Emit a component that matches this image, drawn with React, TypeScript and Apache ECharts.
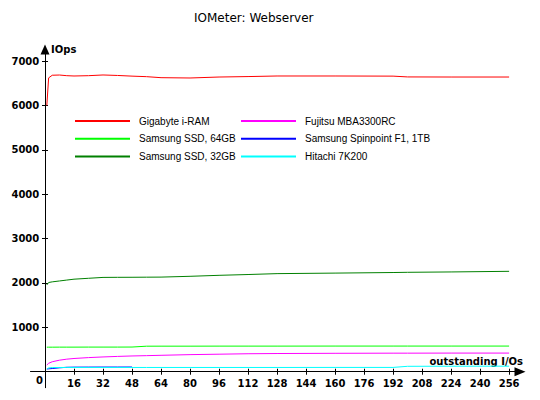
import React, { useEffect, useRef } from 'react';
import * as echarts from 'echarts';

// outstanding I/Os (x) at which the values were read
const ioDepths = [1, 2, 4, 8, 12, 16, 24, 32, 40, 48, 56, 64, 80, 96, 112, 128, 160, 192, 200, 224, 256];

const gigabyteIRam = [6000, 6620, 6680, 6685, 6670, 6663, 6670, 6686, 6675, 6660, 6648, 6625, 6618, 6640, 6650, 6663, 6663, 6660, 6642, 6640, 6640];
const samsungSsd64 = [553, 553, 553, 554, 554, 554, 555, 555, 555, 556, 575, 576, 576, 577, 577, 577, 578, 578, 578, 578, 578];
const samsungSsd32 = [1955, 2010, 2025, 2045, 2065, 2085, 2105, 2125, 2127, 2128, 2130, 2132, 2150, 2172, 2190, 2210, 2222, 2235, 2240, 2248, 2262];
const fujitsuMba = [150, 190, 225, 260, 283, 298, 318, 333, 345, 355, 362, 370, 385, 395, 405, 410, 415, 418, 418, 420, 420];
const spinpointF1 = [60, 65, 72, 88, 100, 103, 104, 105, 105, 106, null, null, null, null, null, null, null, null, null, null, null];
const hitachi7k200 = [63, 85, 95, 95, 96, 96, 96, 96, 96, 96, 96, 96, 96, 96, 96, 96, 97, 97, 122, 124, 125];

const seriesNames = ['Gigabyte i-RAM', 'Samsung SSD, 64GB', 'Samsung SSD, 32GB', 'Fujitsu MBA3300RC', 'Samsung Spinpoint F1, 1TB', 'Hitachi 7K200'];
const seriesColors = ['#ff0000', '#00ff00', '#008000', '#ff00ff', '#0000ff', '#00ffff'];
const seriesValues = [gigabyteIRam, samsungSsd64, samsungSsd32, fujitsuMba, spinpointF1, hitachi7k200];

const xTicks = [16, 32, 48, 64, 80, 96, 112, 128, 144, 160, 176, 192, 208, 224, 240, 256];
const yTicks = [1000, 2000, 3000, 4000, 5000, 6000, 7000];

const TICK_FONT = 'DejaVu Sans';
const LEGEND_FONT = 'Liberation Sans';

export default function App() {
  const ref = useRef<HTMLDivElement>(null);

  useEffect(() => {
    const chart = echarts.init(ref.current!, null, { renderer: 'svg' });

    const series = seriesNames.map((name, s) => ({
      type: 'line',
      name,
      xAxisIndex: 0,
      yAxisIndex: 0,
      symbol: 'none',
      showSymbol: false,
      color: seriesColors[s],
      lineStyle: { width: 1, color: seriesColors[s] },
      data: ioDepths
        .map((x, i) => [x, seriesValues[s][i]])
        .filter((p) => p[1] !== null && p[1] !== undefined),
    }));

    const tickLabelStyle = {
      color: '#000',
      fontFamily: TICK_FONT,
      fontWeight: 'bold' as const,
      fontSize: 10,
    };

    const legendCommon = {
      orient: 'vertical' as const,
      itemWidth: 55,
      itemHeight: 14,
      itemGap: 6.5,
      padding: 0,
      selectedMode: false,
      itemStyle: { opacity: 0 },
      textStyle: { fontFamily: LEGEND_FONT, fontSize: 10, color: '#000', padding: [0, 0, 0, 4] },
    };

    chart.setOption({
      animation: false,
      title: {
        text: 'IOMeter: Webserver',
        left: 194,
        top: 12,
        padding: 0,
        textStyle: { fontFamily: 'DejaVu Sans', fontSize: 12, fontWeight: 'normal', color: '#000' },
      },
      legend: [
        { ...legendCommon, left: 74, top: 115.5, data: seriesNames.slice(0, 3) },
        { ...legendCommon, left: 240, top: 115.5, data: seriesNames.slice(3, 6) },
      ],
      grid: {
        left: 30.5,
        right: 20,
        top: 49.5,
        bottom: 12.3,
        containLabel: false,
        outerBoundsMode: 'none',
      },
      xAxis: [
        {
          type: 'value',
          min: -8,
          max: 262,
          position: 'bottom',
          axisLine: {
            onZero: true,
            lineStyle: { color: '#000', width: 1 },
            symbol: ['none', 'triangle'],
            symbolSize: [9, 11],
          },
          axisTick: { customValues: xTicks, length: 3, lineStyle: { color: '#000' } },
          axisLabel: { customValues: xTicks, margin: -9, formatter: (v: number) => String(v), ...tickLabelStyle },
          splitLine: { show: false },
          name: 'outstanding I/Os',
          nameLocation: 'end',
          nameGap: 3,
          nameTextStyle: { ...tickLabelStyle, align: 'right', verticalAlign: 'bottom', padding: [0, 0, 5, 0] },
        },
        {
          type: 'value',
          min: -8,
          max: 262,
          position: 'bottom',
          axisLine: { show: false, onZero: true },
          axisTick: { customValues: xTicks, inside: true, length: 3, lineStyle: { color: '#000' } },
          axisLabel: { show: false },
          splitLine: { show: false },
        },
      ],
      yAxis: [
        {
          type: 'value',
          min: -360,
          max: 7260,
          position: 'left',
          axisLine: {
            onZero: true,
            lineStyle: { color: '#000', width: 1 },
            symbol: ['none', 'triangle'],
            symbolSize: [9, 10],
          },
          axisTick: { customValues: yTicks, length: 3, lineStyle: { color: '#000' } },
          axisLabel: { customValues: yTicks, margin: -8.8, formatter: (v: number) => String(v), ...tickLabelStyle },
          splitLine: { show: false },
          name: 'IOps',
          nameLocation: 'end',
          nameGap: 0,
          nameTextStyle: { ...tickLabelStyle, align: 'left', verticalAlign: 'middle', padding: [0, 0, 0, 6] },
        },
        {
          type: 'value',
          min: -360,
          max: 7260,
          position: 'left',
          axisLine: { show: false, onZero: true },
          axisTick: { customValues: yTicks, inside: true, length: 3, lineStyle: { color: '#000' } },
          axisLabel: { show: false },
          splitLine: { show: false },
        },
      ],
      graphic: [
        {
          type: 'text',
          x: 39.5,
          y: 380,
          style: {
            text: '0',
            font: `bold 10px "${TICK_FONT}"`,
            fill: '#000',
            align: 'center',
            verticalAlign: 'middle',
          },
        },
      ],
      series,
    });

    return () => chart.dispose();
  }, []);

  return (
    <div
      ref={ref}
      style={{ position: 'absolute', left: 0, top: 0, width: 540, height: 400, background: '#fff' }}
    />
  );
}
